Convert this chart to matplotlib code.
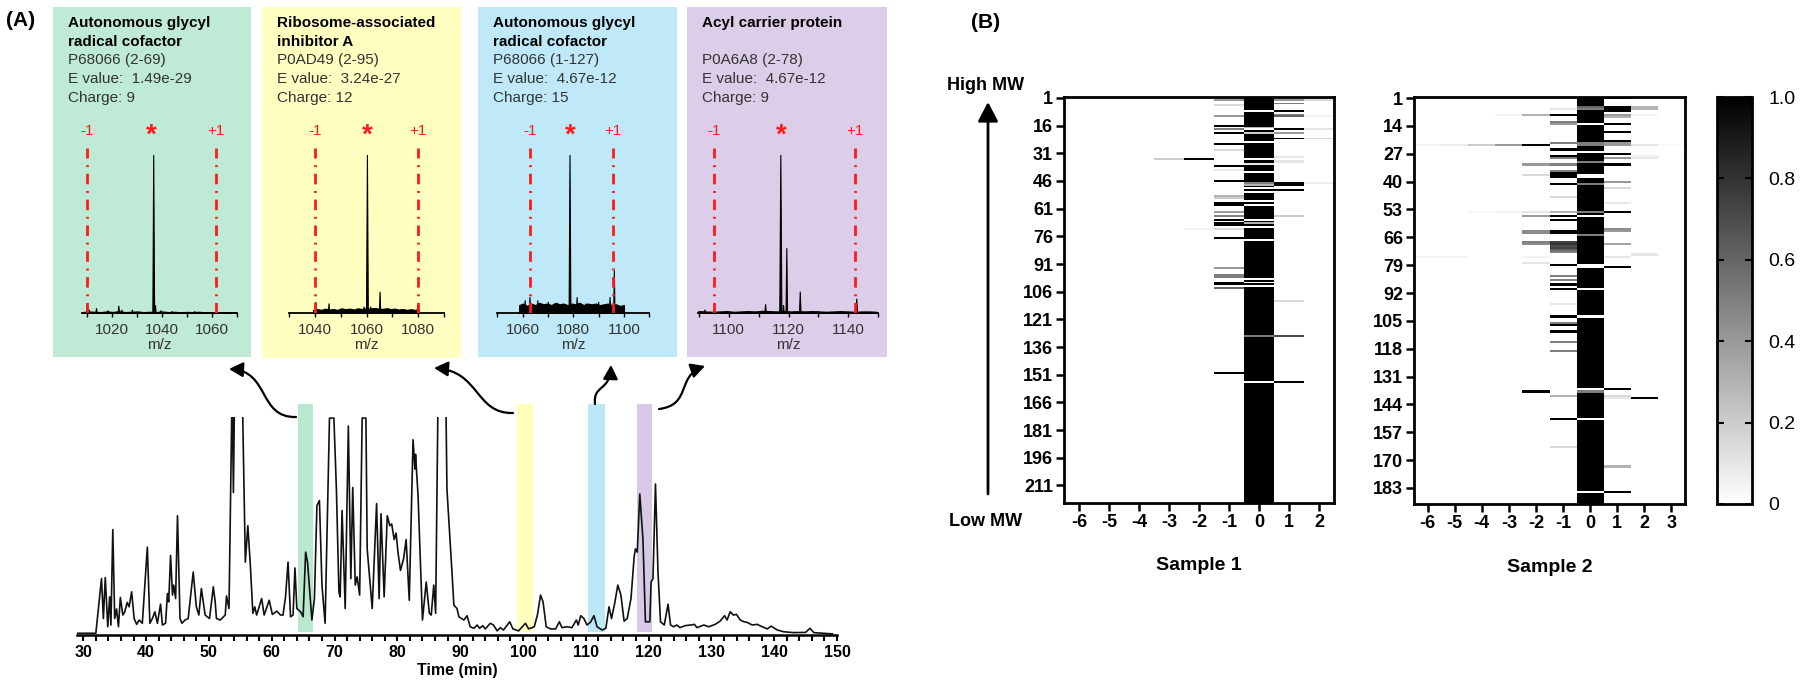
import numpy as np
import matplotlib
matplotlib.use('Agg')
import matplotlib.pyplot as plt
from matplotlib.patches import Rectangle, FancyArrowPatch
from matplotlib.path import Path
from matplotlib.colors import LinearSegmentedColormap

plt.rcParams['font.family'] = ['Liberation Sans', 'DejaVu Sans']
plt.rcParams['axes.unicode_minus'] = False

# ------------------------------------------------------------------ data
# chromatogram (time in min, relative intensity; >100 is saturated)
chrom_t = [29.0, 32.0, 32.9, 33.2, 33.5, 33.9, 34.2, 34.4, 34.7, 35.0, 35.3, 35.6, 35.9, 36.3, 36.6,
           37.0, 37.3, 37.7, 38.1, 38.5, 38.9, 39.4, 40.2, 40.6, 41.0, 41.4, 41.8, 42.3, 42.6, 43.1,
           43.4, 43.6, 43.9, 44.2, 44.4, 44.7, 45.0, 45.4, 45.7, 46.2, 46.7, 47.5, 48.0, 48.4, 48.8,
           49.4, 50.1, 50.7, 51.0, 51.2, 51.8, 52.6, 52.8, 53.2, 53.7, 53.9, 54.1, 54.5, 54.9, 55.3,
           55.8, 56.2, 56.6, 57.0, 57.3, 57.6, 58.4, 58.8, 59.6, 60.1, 60.8, 61.4, 61.8, 62.2, 62.6,
           63.0, 63.4, 63.7, 64.0, 64.6, 65.0, 65.4, 65.7, 66.4, 66.8, 67.2, 67.6, 68.0, 68.5, 69.2,
           69.9, 70.3, 70.7, 70.9, 71.2, 71.7, 72.2, 72.6, 72.9, 73.3, 73.6, 74.0, 74.4, 75.0, 75.2,
           76.0, 76.7, 77.1, 77.4, 77.9, 78.4, 78.8, 79.1, 79.5, 79.8, 80.1, 80.5, 81.0, 81.4, 81.9,
           82.5, 82.8, 82.9, 83.3, 84.0, 84.6, 85.1, 85.4, 85.8, 86.1, 86.5, 87.1, 87.7, 87.9, 88.7,
           89.0, 89.5, 89.8, 90.6, 91.1, 91.6, 92.2, 92.7, 93.1, 93.6, 94.0, 94.8, 95.3, 95.9, 96.4,
           96.9, 97.9, 98.4, 99.3, 100.4, 100.9, 101.8, 102.3, 102.8, 103.2, 103.7, 104.4, 105.2, 105.8, 106.2,
           107.0, 107.8, 108.5, 108.8, 109.2, 109.7, 110.2, 110.8, 111.3, 111.8, 112.6, 113.2, 113.7, 114.1, 114.6,
           115.1, 115.6, 116.1, 116.6, 117.2, 117.7, 117.9, 118.2, 118.6, 119.1, 119.5, 120.2, 120.4, 120.7, 121.1,
           121.5, 121.9, 122.5, 123.1, 123.5, 124.0, 124.5, 125.0, 125.8, 126.7, 127.3, 127.7, 128.8, 129.6, 130.6,
           131.4, 132.1, 132.5, 133.0, 133.5, 134.0, 134.6, 135.2, 135.7, 136.5, 137.3, 138.1, 138.9, 139.5, 140.5,
           141.5, 143.1, 145.0, 145.7, 146.3, 147.9, 149.3]
chrom_i = [0.8, 0.8, 26, 7.6, 26.5, 3.8, 17.6, 4.6, 48.6, 7.6, 12, 3.8, 17.3, 9.2, 10.7,
           15, 13, 19.9, 7.6, 4.9, 6.9, 5.4, 40.5, 5.4, 7.6, 10.7, 5.4, 14.2, 4.6, 5.4,
           19.1, 15.3, 36.7, 18.4, 23, 16.8, 55, 7.6, 5.4, 6.9, 7.6, 29, 13, 9.2, 21.4,
           9.2, 7.6, 22.2, 15.3, 7.6, 6.9, 9.2, 18, 12.2, 115, 65.7, 115, 115, 130, 115,
           33.6, 50.4, 32, 10, 13, 9.2, 16.8, 9.2, 16, 9.5, 11, 9.2, 9.2, 17.6, 33.6,
           8.4, 9.2, 30.9, 12.2, 10.7, 8.4, 38.2, 33.6, 6.9, 16.8, 59.7, 62, 23, 5.4, 100,
           100, 67.2, 19.9, 17.6, 57.4, 12.2, 96.3, 26, 68, 23, 26.8, 18.4, 100, 100, 39.7,
           12.2, 60.6, 16.8, 55.9, 17.6, 55, 50.4, 51.2, 44, 47, 38.2, 29.8, 35.2, 44, 16,
           90, 76.5, 83.3, 64.2, 6.9, 24.4, 10, 9.2, 23, 10, 115, 130, 115, 67.2, 29,
           13.8, 12.2, 8.4, 6.9, 8.9, 3.8, 3.1, 4.6, 3.1, 4.3, 2.8, 5.4, 4.6, 1.9, 3.4,
           2.3, 6.1, 2.8, 1.9, 5.4, 2.8, 3.8, 9.2, 18.4, 15.3, 3.8, 2.8, 2.8, 6.1, 3.4,
           3.8, 3.4, 6.9, 4.6, 8.9, 7.6, 4.6, 6.1, 8.9, 3.8, 2.3, 3.1, 13, 7.6, 14.5,
           23, 18.4, 6.4, 7.6, 16.8, 35.9, 39.7, 38.2, 65, 44.3, 6.1, 6.1, 24.4, 26, 69.6,
           29, 6.1, 4.6, 14.2, 4.6, 3.8, 4.6, 3.4, 4.3, 4.6, 4.9, 3.4, 4.6, 3.8, 4.9,
           6.4, 8.9, 6.9, 10.7, 9.2, 9.5, 6.9, 6.1, 5.8, 4.6, 4.9, 3.8, 2.8, 4.1, 2.3,
           1.5, 1.1, 1.2, 3.1, 1.1, 0.8, 0.5]
chrom_xticks = [30, 40, 50, 60, 70, 80, 90, 100, 110, 120, 130, 140, 150]
band_start = [64.2, 99.1, 110.3, 118.2]
band_end = [66.6, 101.8, 113.0, 120.6]
band_colors = ['#B8E8CF', '#FFFFBE', '#BBE7F7', '#D8C9E6']

# spectra panels
panel_colors = ['#BFEAD5', '#FFFFC2', '#BFE9F8', '#DCCDE8']
titles = [["Autonomous glycyl", "radical cofactor"], ["Ribosome-associated", "inhibitor A"],
          ["Autonomous glycyl", "radical cofactor"], ["Acyl carrier protein", ""]]
accessions = ["P68066 (2-69)", "P0AD49 (2-95)", "P68066 (1-127)", "P0A6A8 (2-78)"]
evalues = ["1.49e-29", "3.24e-27", "4.67e-12", "4.67e-12"]
charges = ["9", "12", "15", "9"]
spec_xlim = [(1008.2, 1069.3), (1039.2, 1080.3), (1058.6, 1100.0), (1089.8, 1149.3)]
spec_ticks = [[1020, 1040, 1060], [1040, 1060, 1080], [1060, 1080, 1100], [1100, 1120, 1140]]
iso_minus = [1010.1, 1040.1, 1063.1, 1095.0]
iso_plus = [1061.4, 1080.0, 1095.5, 1142.2]
# peaks (m/z, relative height)
p1_mz = [1010.2, 1011.0, 1013.9, 1018.5, 1022.8, 1024.0, 1028.2, 1036.7, 1037.4, 1039.5, 1044.0, 1053.0]
p1_h = [0.05, 0.02, 0.03, 0.015, 0.045, 0.02, 0.02, 1.0, 0.05, 0.015, 0.01, 0.01]
p2_mz = [1040.3, 1045.4, 1053.0, 1057.5, 1059.0, 1060.3, 1061.6, 1063.0, 1065.2, 1068.7, 1075.0, 1079.8]
p2_h = [0.07, 0.06, 0.02, 0.025, 0.04, 1.0, 0.04, 0.02, 0.135, 0.03, 0.02, 0.05]
p3_mz = [1061.0, 1062.9, 1066.0, 1070.2, 1074.0, 1078.7, 1081.5, 1085.0, 1090.0, 1094.5, 1096.2]
p3_h = [0.08, 0.1, 0.08, 0.07, 0.06, 1.0, 0.1, 0.06, 0.07, 0.1, 0.27]
p4_mz = [1092.0, 1095.2, 1112.3, 1117.4, 1118.3, 1119.4, 1123.9, 1130.0, 1142.8]
p4_h = [0.02, 0.02, 0.055, 1.0, 0.05, 0.41, 0.135, 0.01, 0.09]
# baseline noise envelopes (evenly spread over each m/z window)
p1_noise = [0.006, 0.01, 0.008, 0.006, 0.01, 0.007, 0.012, 0.006, 0.008, 0.01, 0.006, 0.008, 0.006, 0.01, 0.006,
            0.008, 0.005, 0.007, 0.006, 0.008, 0.005, 0.006, 0.005, 0.006, 0.004, 0.005]
p2_noise = [0.02, 0.025, 0.02, 0.028, 0.022, 0.025, 0.02, 0.03, 0.024, 0.028, 0.022, 0.03, 0.025, 0.03, 0.028,
            0.032, 0.028, 0.026, 0.03, 0.024, 0.028, 0.022, 0.025, 0.02, 0.024, 0.02, 0.022]
p3_noise = [0.05, 0.06, 0.045, 0.06, 0.05, 0.065, 0.055, 0.06, 0.05, 0.065, 0.055, 0.06, 0.05, 0.06, 0.055,
            0.065, 0.05, 0.06, 0.055, 0.06, 0.05, 0.055, 0.06, 0.05, 0.055, 0.045, 0.05]
p4_noise = [0.012, 0.01, 0.008, 0.01, 0.012, 0.008, 0.01, 0.012, 0.01, 0.014, 0.012, 0.01, 0.012, 0.01, 0.012,
            0.01, 0.012, 0.01, 0.008, 0.01, 0.012, 0.01, 0.008, 0.01, 0.01, 0.008]
peaks_mz = [p1_mz, p2_mz, p3_mz, p4_mz]
peaks_h = [p1_h, p2_h, p3_h, p4_h]
noises = [p1_noise, p2_noise, p3_noise, p4_noise]

# heatmaps: (row, value) entries per charge-state column; column 0 is 1.0 except listed rows
s1_nrows = 220
s1_cols = [-6, -5, -4, -3, -2, -1, 0, 1, 2]
s1_yticks = [1, 16, 31, 46, 61, 76, 91, 106, 121, 136, 151, 166, 181, 196, 211]
s1_c0 = [(8, 0), (17, 0.3), (18, 0), (20, 0.2), (25, 0), (34, 0), (37, 0.1), (41, 0), (47, 0.5), (48, 0.3),
         (50, 0), (52, 0), (57, 0), (59, 0), (67, 0), (69, 0.3), (71, 0), (78, 0), (99, 0), (101, 0),
         (103, 0), (130, 0.5), (155, 0)]
s1_cm1 = [(2, 0.4), (5, 0.15), (11, 0.4), (16, 1), (18, 0.5), (20, 1), (26, 1), (29, 0.15), (38, 1), (40, 0.1),
          (46, 1), (54, 0.3), (55, 0.2), (58, 1), (59, 1), (63, 0.4), (65, 0.5), (67, 1), (69, 1), (70, 1),
          (72, 0.15), (77, 1), (93, 0.4), (97, 0.5), (98, 0.5), (101, 1), (102, 1), (104, 0.6), (150, 1)]
s1_cm2 = [(34, 1), (72, 0.05)]
s1_cm3 = [(34, 0.2)]
s1_c1 = [(2, 0.4), (4, 0.5), (8, 1), (10, 0.5), (11, 0.6), (18, 1), (20, 0.4), (23, 1), (33, 0.1), (35, 0.1),
         (36, 0.1), (47, 1), (48, 1), (51, 1), (65, 0.2), (111, 0.15), (130, 0.7), (155, 1)]
s1_c2 = [(2, 0.15), (11, 0.05), (18, 0.1), (23, 0.15), (47, 0.08)]

s2_nrows = 190
s2_cols = [-6, -5, -4, -3, -2, -1, 0, 1, 2, 3]
s2_yticks = [1, 14, 27, 40, 53, 66, 79, 92, 105, 118, 131, 144, 157, 170, 183]
s2_c0 = [(5, 0.6), (6, 0.5), (13, 0), (22, 0.5), (23, 0.5), (26, 0), (31, 0.5), (37, 0), (38, 0), (41, 0.5),
         (54, 0.5), (56, 0), (65, 0.5), (79, 0), (80, 0), (90, 0), (103, 0), (137, 0), (138, 0.5), (151, 0),
         (185, 0)]
s2_cm1 = [(6, 0.1), (9, 1), (12, 0.5), (13, 0.4), (22, 0.5), (25, 1), (28, 1), (29, 0.5), (32, 0.5), (35, 0.5),
          (36, 1), (37, 1), (38, 1), (41, 1), (47, 0.15), (54, 0.3), (56, 1), (58, 1), (63, 1), (64, 1),
          (68, 0.75), (69, 0.8), (70, 0.7), (71, 0.75), (72, 0.6), (73, 0.5), (79, 1), (84, 0.5), (86, 0.5),
          (88, 1), (90, 1), (97, 0.1), (103, 1), (106, 0.5), (107, 1), (110, 1), (115, 0.5), (119, 0.5),
          (140, 0.3), (151, 1), (164, 0.15)]
s2_cm2 = [(9, 0.3), (23, 1), (32, 0.4), (37, 0.15), (54, 0.1), (56, 0.4), (63, 0.45), (64, 0.45), (68, 0.5),
          (69, 0.45), (75, 0.05), (78, 0.1), (138, 1)]
s2_cm3 = [(9, 0.05), (23, 0.4), (54, 0.05)]
s2_cm4 = [(23, 0.2), (54, 0.03)]
s2_cm5 = [(23, 0.08), (75, 0.05)]
s2_cm6 = [(23, 0.05), (75, 0.04)]
s2_c1 = [(1, 1), (5, 1), (6, 1), (7, 1), (9, 0.4), (10, 0.3), (13, 1), (17, 1), (21, 1), (22, 0.4), (23, 0.4),
         (27, 1), (29, 0.4), (32, 1), (40, 0.4), (43, 0.15), (50, 0.1), (54, 1), (62, 0.45), (63, 0.4),
         (69, 0.35), (75, 0.1), (80, 1), (137, 1), (140, 0.15), (141, 0.1), (173, 0.3), (185, 1)]
s2_c2 = [(5, 0.3), (6, 0.3), (9, 0.05), (23, 0.1), (28, 0.05), (29, 0.1), (74, 0.1), (141, 1)]
s2_c3 = [(23, 0.03)]
cbar_ticks = [0, 0.2, 0.4, 0.6, 0.8, 1.0]
cbar_labels = ["0", "0.2", "0.4", "0.6", "0.8", "1.0"]

# ------------------------------------------------------------------ layout helpers
W, H = 1800, 689
fig = plt.figure(figsize=(18, 6.89), dpi=100)


def fx(x):
    return x / W


def fy(y):
    return 1 - y / H


def rect(l, t, r, b):
    return [l / W, 1 - b / H, (r - l) / W, (b - t) / H]


RED = '#FF1A1A'
GRAY = '#333333'

# ------------------------------------------------------------------ panel A: spectra
panel_boxes = [(53, 7, 251, 357), (262, 7, 461, 358), (478, 7, 677, 357), (687, 7, 887, 357)]
spec_boxes = [(82.2, 145, 237.3, 313), (289.3, 145, 444, 313), (497.3, 145, 649.3, 313), (698.3, 145, 878.3, 313)]
ytop = 1.063

for k in range(4):
    l, t, r, b = panel_boxes[k]
    fig.add_artist(Rectangle((fx(l), fy(b)), (r - l) / W, (b - t) / H, transform=fig.transFigure,
                             facecolor=panel_colors[k], edgecolor='none', zorder=0))
    tx = l + 15
    lines = [(titles[k][0], 'bold', 'black'), (titles[k][1], 'bold', 'black'),
             (accessions[k], 'normal', GRAY), ("E value:  " + evalues[k], 'normal', GRAY),
             ("Charge: " + charges[k], 'normal', GRAY)]
    for j, (s, w, c) in enumerate(lines):
        if s:
            fig.text(fx(tx), fy(23 + j * 18.7), s, fontsize=11, fontweight=w, color=c, va='center', ha='left')

    sl, st, sr, sb = spec_boxes[k]
    ax = fig.add_axes(rect(sl, st, sr, sb))
    ax.patch.set_alpha(0)
    lo, hi = spec_xlim[k]
    nz = noises[k]
    nx = np.linspace(lo, hi, len(nz))
    ax.fill_between(nx, 0, nz, color='black', lw=0.8)
    for mz, h in zip(peaks_mz[k], peaks_h[k]):
        w = 0.35 if h > 0.5 else 0.25
        ax.fill([mz - w, mz, mz + w], [0, h, 0], color='black', lw=0.8)
    ax.plot([iso_minus[k]] * 2, [0, 1.045], color=RED, lw=2.0, ls=(0, (3.8, 2.4, 0.7, 2.4)), zorder=3)
    ax.plot([iso_plus[k]] * 2, [0, 1.045], color=RED, lw=2.0, ls=(0, (3.8, 2.4, 0.7, 2.4)), zorder=3)
    main_mz = peaks_mz[k][int(np.argmax(peaks_h[k]))]
    ax.text(iso_minus[k], 1.15, "-1", color=RED, fontsize=11, ha='center', va='center', clip_on=False)
    ax.text(iso_plus[k], 1.15, "+1", color=RED, fontsize=11, ha='center', va='center', clip_on=False)
    ax.text(main_mz - 0.9 if k == 0 else main_mz, 1.12, "*", color=RED, fontsize=20, fontweight='bold',
            ha='center', va='center', clip_on=False)
    ax.set_xlim(lo, hi)
    ax.set_ylim(0, ytop)
    for sp in ['top', 'right', 'left']:
        ax.spines[sp].set_visible(False)
    ax.spines['bottom'].set_linewidth(1.3)
    ax.set_yticks([])
    ax.set_xticks(spec_ticks[k])
    ax.set_xticks([v + 10 for v in spec_ticks[k]] + [spec_ticks[k][0] - 10], minor=True)
    ax.tick_params(axis='x', which='both', direction='out', length=3, width=1, labelsize=11,
                   labelcolor=GRAY, pad=4)
    ax.set_xlabel("m/z", fontsize=11, color=GRAY, labelpad=1)

fig.text(fx(21), fy(21), "(A)", fontsize=15, fontweight='bold', ha='center', va='center')

# ------------------------------------------------------------------ chromatogram
axc = fig.add_axes(rect(77, 417, 837, 635))
axc.patch.set_alpha(0)
for t0, t1, c in zip(band_start, band_end, band_colors):
    sp = axc.axvspan(t0, t1, ymin=0.014, ymax=1.06, facecolor=c, edgecolor='none', zorder=0)
    sp.set_clip_on(False)
axc.plot(chrom_t, chrom_i, color='#111111', lw=1.2, zorder=2)
axc.set_xlim(29, 150)
axc.set_ylim(0, 100.5)
for s in ['top', 'right', 'left']:
    axc.spines[s].set_visible(False)
axc.spines['bottom'].set_linewidth(1.8)
axc.set_yticks([])
axc.set_xticks(chrom_xticks)
axc.set_xticks(np.arange(30, 151, 2), minor=True)
axc.tick_params(axis='x', which='both', direction='out', length=4, width=1.5, labelsize=11.5, pad=3)
for lab in axc.get_xticklabels():
    lab.set_fontweight('bold')
axc.set_xlabel("Time (min)", fontsize=11.5, fontweight='bold', labelpad=2)


def curved_arrow(p0, p1, p2, p3):
    verts = [(fx(x), fy(y)) for x, y in (p0, p1, p2, p3)]
    path = Path(verts, [Path.MOVETO, Path.CURVE4, Path.CURVE4, Path.CURVE4])
    arr = FancyArrowPatch(path=path, arrowstyle='-|>,head_length=0.6,head_width=0.32', mutation_scale=14,
                          lw=1.6, color='black', transform=fig.transFigure)
    fig.add_artist(arr)


curved_arrow((296, 417), (258, 418), (270, 371), (229, 369))
curved_arrow((513, 413), (475, 414), (480, 371), (434, 368))
curved_arrow((595, 404), (593, 384), (610, 392), (611, 365))
curved_arrow((659, 409), (692, 405), (676, 376), (705, 366))

# ------------------------------------------------------------------ panel B: heatmaps
cmap = LinearSegmentedColormap.from_list('wb', ['#FFFFFF', '#000000'])


def build(nrows, cols, entries):
    M = np.zeros((nrows, len(cols)))
    M[:, cols.index(0)] = 1.0
    for c, lst in entries:
        for r, v in lst:
            M[r - 1, cols.index(c)] = v
    return M


M1 = build(s1_nrows, s1_cols, [(0, s1_c0), (-1, s1_cm1), (-2, s1_cm2), (-3, s1_cm3), (1, s1_c1), (2, s1_c2)])
M2 = build(s2_nrows, s2_cols, [(0, s2_c0), (-1, s2_cm1), (-2, s2_cm2), (-3, s2_cm3), (-4, s2_cm4),
                               (-5, s2_cm5), (-6, s2_cm6), (1, s2_c1), (2, s2_c2), (3, s2_c3)])


def heat(box, M, cols, nrows, yticks, xlabel):
    ax = fig.add_axes(rect(*box))
    xe = np.arange(cols[0] - 0.5, cols[-1] + 1.0, 1.0)
    ye = np.arange(0.5, nrows + 1.0, 1.0)
    mesh = ax.pcolormesh(xe, ye, M, cmap=cmap, vmin=0, vmax=1, shading='flat')
    ax.set_xlim(xe[0], xe[-1])
    ax.set_ylim(nrows + 0.5, 0.5)
    ax.set_xticks(cols)
    ax.set_xticklabels([str(c) for c in cols])
    ax.set_yticks(yticks)
    ax.set_yticklabels([str(v) for v in yticks])
    for s in ax.spines.values():
        s.set_linewidth(2.0)
    ax.tick_params(direction='out', length=6, width=1.8, labelsize=13, pad=2)
    for lab in ax.get_xticklabels() + ax.get_yticklabels():
        lab.set_fontweight('bold')
    ax.set_xlabel(xlabel, fontsize=14, fontweight='bold', labelpad=19)
    return mesh


heat((1064, 97, 1334, 503), M1, s1_cols, s1_nrows, s1_yticks, "Sample 1")
mesh = heat((1414, 97, 1685, 504), M2, s2_cols, s2_nrows, s2_yticks, "Sample 2")

cax = fig.add_axes(rect(1717, 97, 1752, 504))
cb = fig.colorbar(mesh, cax=cax)
cb.set_ticks(cbar_ticks)
cb.set_ticklabels(cbar_labels)
cb.outline.set_linewidth(2.0)
cax.tick_params(direction='in', length=5, width=1.5, left=True, right=True, labelsize=14, pad=12)

fig.text(fx(986), fy(22), "(B)", fontsize=15, fontweight='bold', ha='center', va='center')
fig.text(fx(986), fy(85), "High MW", fontsize=13, fontweight='bold', ha='center', va='center')
fig.text(fx(986), fy(522), "Low MW", fontsize=13, fontweight='bold', ha='center', va='center')
fig.add_artist(FancyArrowPatch((fx(988), fy(494)), (fx(988), fy(102)), transform=fig.transFigure,
                               arrowstyle='-|>,head_length=0.65,head_width=0.34', mutation_scale=18,
                               lw=2.0, color='black', shrinkA=0, shrinkB=0))

fig.savefig('out.png', dpi=100, facecolor='white')
